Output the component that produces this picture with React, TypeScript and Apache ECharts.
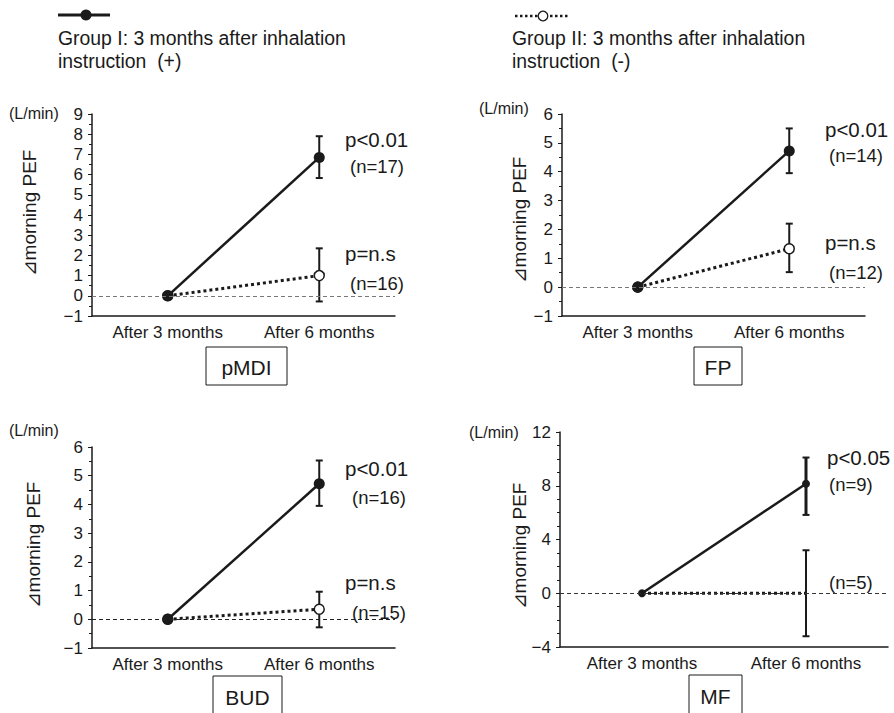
import React, { useEffect, useRef } from "react";
import * as echarts from "echarts";

const categories = ["After 3 months", "After 6 months"];

const panelNames = ["pMDI", "FP", "BUD", "MF"];

// Group I (solid, filled marker)
const pmdiGroup1 = [0, 6.85];
const fpGroup1 = [0, 4.72];
const budGroup1 = [0, 4.72];
const mfGroup1 = [0, 8.15];
// Group II (dotted, hollow marker)
const pmdiGroup2 = [0, 1.0];
const fpGroup2 = [0, 1.33];
const budGroup2 = [0, 0.35];
const mfGroup2 = [0, 0.0];

// error bars at "After 6 months": [low, high]
const pmdiErr1 = [5.83, 7.9];
const pmdiErr2 = [-0.28, 2.35];
const fpErr1 = [3.95, 5.5];
const fpErr2 = [0.52, 2.2];
const budErr1 = [3.95, 5.53];
const budErr2 = [-0.28, 0.96];
const mfErr1 = [5.83, 10.1];
const mfErr2 = [-3.2, 3.2];

// axis ranges [min, max, interval, minorSplits]
const pmdiAxis = [-1, 9, 1, 2];
const fpAxis = [-1, 6, 1, 2];
const budAxis = [-1, 6, 1, 2];
const mfAxis = [-4, 12, 4, 4];

// annotation texts
const pmdiNotes = ["p<0.01", "(n=17)", "p=n.s", "(n=16)"];
const fpNotes = ["p<0.01", "(n=14)", "p=n.s", "(n=12)"];
const budNotes = ["p<0.01", "(n=16)", "p=n.s", "(n=15)"];
const mfNotes = ["p<0.05", "(n=9)", "", "(n=5)"];

const legendTexts = [
  "Group I: 3 months after inhalation\ninstruction  (+)",
  "Group II: 3 months after inhalation\ninstruction  (-)",
];
const unitText = "(L/min)";
const yName = "\u22BFmorning PEF";

const INK = "#1a1a1a";
const FONT = "'Liberation Sans', Arial, Helvetica, sans-serif";

export default function App() {
  const ref = useRef<HTMLDivElement>(null);

  useEffect(() => {
    document.body.style.margin = "0";
    const chart = echarts.init(ref.current!, null, { renderer: "svg" });

    const grids = [
      { left: 92, top: 114, width: 303, height: 202 },
      { left: 562, top: 114, width: 303, height: 202 },
      { left: 92, top: 447, width: 303, height: 201 },
      { left: 560, top: 432, width: 328, height: 215 },
    ];
    const axes = [pmdiAxis, fpAxis, budAxis, mfAxis];
    const g1 = [pmdiGroup1, fpGroup1, budGroup1, mfGroup1];
    const g2 = [pmdiGroup2, fpGroup2, budGroup2, mfGroup2];
    const e1 = [pmdiErr1, fpErr1, budErr1, mfErr1];
    const e2 = [pmdiErr2, fpErr2, budErr2, mfErr2];
    const notes = [pmdiNotes, fpNotes, budNotes, mfNotes];
    const zeroColors = ["#777", "#777", "#222", "#333"];

    const xAxis = grids.map((_, i) => ({
      type: "category",
      gridIndex: i,
      data: categories,
      boundaryGap: true,
      axisLine: { show: true, onZero: false, lineStyle: { color: INK, width: 1.5 } },
      axisTick: { show: false },
      axisLabel: { color: INK, fontSize: 17, fontFamily: FONT, margin: 8, interval: 0 },
      splitLine: { show: false },
    }));

    const yAxis = axes.map((a, i) => ({
      type: "value",
      gridIndex: i,
      min: a[0],
      max: a[1],
      interval: a[2],
      axisLine: { show: true, onZero: false, lineStyle: { color: INK, width: 1.5 } },
      axisTick: { show: true, inside: false, length: 4, lineStyle: { color: INK, width: 1 } },
      minorTick: { show: true, splitNumber: a[3], length: 3, lineStyle: { color: INK, width: 1 } },
      axisLabel: {
        color: INK,
        fontSize: 17,
        fontFamily: FONT,
        margin: 9,
        formatter: (v: number) => (v < 0 ? "\u2212" + Math.abs(v) : String(v)),
      },
      splitLine: { show: false },
    }));

    const series: any[] = [];
    grids.forEach((_, i) => {
      const isMF = i === 3;
      const errRender = (w: number) => (params: any, api: any) => {
        const x = api.value(0);
        const lo = api.coord([x, api.value(1)]);
        const hi = api.coord([x, api.value(2)]);
        const cap = 3.5;
        return {
          type: "group",
          children: [
            { type: "line", shape: { x1: lo[0], y1: lo[1], x2: hi[0], y2: hi[1] }, style: { stroke: INK, lineWidth: w } },
            { type: "line", shape: { x1: lo[0] - cap, y1: lo[1], x2: lo[0] + cap, y2: lo[1] }, style: { stroke: INK, lineWidth: 2 } },
            { type: "line", shape: { x1: hi[0] - cap, y1: hi[1], x2: hi[0] + cap, y2: hi[1] }, style: { stroke: INK, lineWidth: 2 } },
          ],
        };
      };
      series.push({
        type: "custom",
        xAxisIndex: i,
        yAxisIndex: i,
        z: 1,
        silent: true,
        renderItem: errRender(isMF ? 3 : 2),
        data: [[1, e1[i][0], e1[i][1]]],
      });
      series.push({
        type: "custom",
        xAxisIndex: i,
        yAxisIndex: i,
        z: 1,
        silent: true,
        renderItem: errRender(2),
        data: [[1, e2[i][0], e2[i][1]]],
      });
      series.push({
        type: "line",
        xAxisIndex: i,
        yAxisIndex: i,
        z: 3,
        data: g2[i],
        symbol: isMF ? "none" : "circle",
        symbolSize: 10,
        showSymbol: true,
        lineStyle: { color: INK, width: 3, type: [3, 3] },
        itemStyle: { color: "#fff", borderColor: INK, borderWidth: 1.5 },
        markLine: {
          silent: true,
          symbol: ["none", "none"],
          label: { show: false },
          lineStyle: { color: zeroColors[i], width: 1, type: [4, 3] },
          data: [{ yAxis: 0 }],
        },
      });
      series.push({
        type: "line",
        xAxisIndex: i,
        yAxisIndex: i,
        z: 4,
        data: g1[i],
        symbol: "circle",
        symbolSize: isMF ? 8 : 11,
        lineStyle: { color: INK, width: 2.5, type: "solid" },
        itemStyle: { color: INK },
      });
    });

    const txt = (x: number, y: number, text: string, size: number, align = "left", extra: any = {}) => ({
      type: "text",
      x,
      y,
      silent: true,
      ...extra,
      style: {
        text,
        fill: INK,
        font: `${size}px ${FONT}`,
        textAlign: align,
        textVerticalAlign: "middle",
      },
    });

    // annotation positions [x, y] for p text, n text, p2 text, n2 text
    const notePos = [
      [[345, 139], [350, 166], [345, 253], [350, 283]],
      [[825, 129], [829, 155], [825, 242], [829, 272]],
      [[345, 468], [352, 497], [345, 582], [352, 612]],
      [[827, 457], [829, 484], [827, 560], [829, 582]],
    ];
    const unitPos = [[9, 113], [479, 108], [9, 430], [469, 432]];
    const yNamePos = [[29, 213], [519, 220], [33, 545], [519, 546]];
    const boxes = [
      [206, 347, 81, 38],
      [694, 347, 48, 38],
      [213, 676, 69, 45],
      [689, 675, 53, 45],
    ];
    const boxTextY = [367, 367, 697, 696];

    const graphic: any[] = [];
    notes.forEach((arr, i) => {
      arr.forEach((t, k) => {
        if (t) graphic.push(txt(notePos[i][k][0], notePos[i][k][1], t, k % 2 === 0 ? 20.5 : 18.5));
      });
      graphic.push(txt(unitPos[i][0], unitPos[i][1], unitText, 16));
      graphic.push(txt(yNamePos[i][0], yNamePos[i][1], yName, 19, "center", { rotation: Math.PI / 2 }));
      const b = boxes[i];
      graphic.push({
        type: "rect",
        silent: true,
        shape: { x: b[0], y: b[1], width: b[2], height: b[3] },
        style: { fill: "#fff", stroke: INK, lineWidth: 1 },
      });
      graphic.push(txt(b[0] + b[2] / 2, boxTextY[i], panelNames[i], 21, "center"));
    });

    // legend
    graphic.push({ type: "line", silent: true, shape: { x1: 58, y1: 15, x2: 110, y2: 15 }, style: { stroke: INK, lineWidth: 3 } });
    graphic.push({ type: "circle", silent: true, shape: { cx: 86, cy: 15, r: 5.5 }, style: { fill: INK } });
    graphic.push({ type: "line", silent: true, shape: { x1: 515, y1: 16, x2: 570, y2: 16 }, style: { stroke: INK, lineWidth: 2.5, lineDash: [2.5, 2.5] } });
    graphic.push({ type: "circle", silent: true, shape: { cx: 543, cy: 16, r: 4.8 }, style: { fill: "#fff", stroke: INK, lineWidth: 1.3 } });
    graphic.push({
      type: "text",
      x: 58,
      y: 26,
      silent: true,
      style: { text: legendTexts[0], fill: INK, font: `19.4px ${FONT}`, lineHeight: 23 },
    });
    graphic.push({
      type: "text",
      x: 512,
      y: 26,
      silent: true,
      style: { text: legendTexts[1], fill: INK, font: `19.4px ${FONT}`, lineHeight: 23 },
    });

    chart.setOption({
      animation: false,
      backgroundColor: "#fff",
      grid: grids,
      xAxis,
      yAxis,
      series,
      graphic,
    });

    return () => chart.dispose();
  }, []);

  return <div ref={ref} style={{ width: 894, height: 713 }} />;
}
